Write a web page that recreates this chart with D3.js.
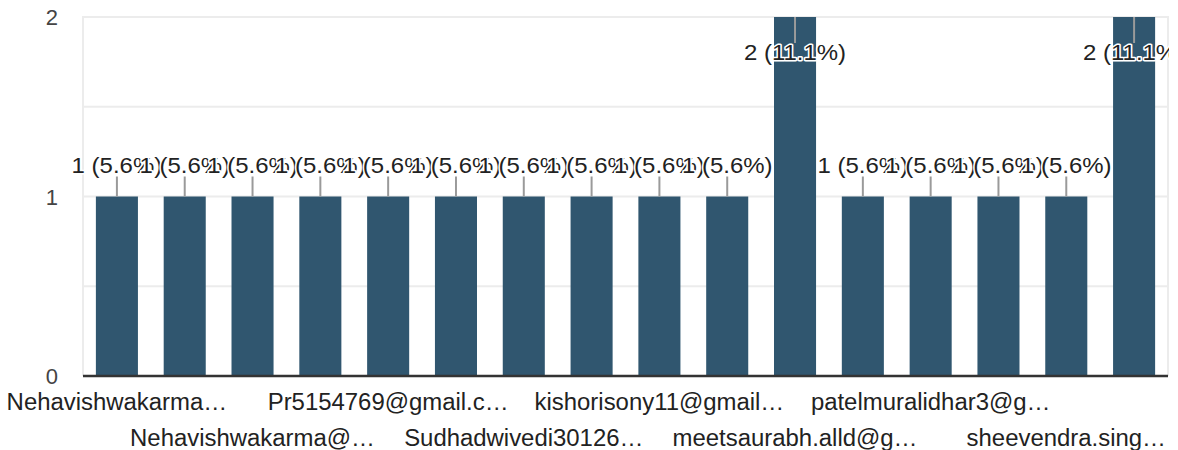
<!DOCTYPE html>
<html>
<head>
<meta charset="utf-8">
<script src="https://cdn.jsdelivr.net/npm/d3@7"></script>
<style>
  html, body { margin: 0; padding: 0; background: #fff; }
  svg { display: block; font-family: "Liberation Sans", Arial, sans-serif; }
</style>
</head>
<body>
<svg id="chart" width="1178" height="450"></svg>
<script>
// ---- data ----
const categories = [
  "Nehavishwakarma…", "", "Nehavishwakarma@…", "", "Pr5154769@gmail.c…", "",
  "Sudhadwivedi30126…", "", "kishorisony11@gmail…", "", "meetsaurabh.alld@g…", "",
  "patelmuralidhar3@g…", "", "sheevendra.sing…", ""
];
const counts = [1, 1, 1, 1, 1, 1, 1, 1, 1, 1, 2, 1, 1, 1, 1, 2];
const percents = ["5.6%", "5.6%", "5.6%", "5.6%", "5.6%", "5.6%", "5.6%", "5.6%", "5.6%", "5.6%",
                  "11.1%", "5.6%", "5.6%", "5.6%", "5.6%", "11.1%"];
const yTickValues = [0, 1, 2];
const yGridValues = [0.5, 1, 1.5, 2];

(function () {
// ---- layout ----
const pLeft = 83, pRight = 1168, pTop = 17, pBottom = 376;
const svg = d3.select("#chart");

const x = d3.scaleBand()
  .domain(d3.range(categories.length))
  .range([pLeft, pRight])
  .paddingInner(0.38)
  .paddingOuter(0.19);

const y = d3.scaleLinear().domain([0, 2]).range([pBottom, pTop]);

// gridlines
svg.append("g").selectAll("line").data(yGridValues).join("line")
  .attr("x1", pLeft).attr("x2", pRight)
  .attr("y1", d => y(d)).attr("y2", d => y(d))
  .attr("stroke", "#ececec").attr("stroke-width", 2);
svg.append("g").selectAll("line").data([pLeft, pRight]).join("line")
  .attr("x1", d => d).attr("x2", d => d)
  .attr("y1", y(2) - 1).attr("y2", y(0))
  .attr("stroke", "#ececec").attr("stroke-width", 2);

// y axis labels
const yAxis = d3.axisLeft(y).tickValues(yTickValues).tickFormat(d3.format("d")).tickSize(0).tickPadding(0);
const yg = svg.append("g").attr("transform", "translate(58,0)").call(yAxis);
yg.select(".domain").remove();
yg.selectAll("text")
  .attr("font-size", 22)
  .attr("font-family", '"Liberation Sans", Arial, sans-serif')
  .attr("fill", "#444")
  .attr("dy", "0.36em");

// bars
svg.append("g").selectAll("rect").data(counts).join("rect")
  .attr("x", (d, i) => x(i))
  .attr("width", x.bandwidth())
  .attr("y", d => y(d))
  .attr("height", d => y(0) - y(d))
  .attr("fill", "#30566f");

// baseline
svg.append("line")
  .attr("x1", pLeft).attr("x2", pRight)
  .attr("y1", y(0)).attr("y2", y(0))
  .attr("stroke", "#333").attr("stroke-width", 2.5);

// x axis labels (alternating rows)
const xAxis = d3.axisBottom(x).tickSize(0).tickFormat(i => categories[i]);
const xg = svg.append("g").attr("transform", `translate(0,${y(0)})`).call(xAxis);
xg.select(".domain").remove();
xg.selectAll(".tick text")
  .attr("font-size", 23)
  .attr("font-family", '"Liberation Sans", Arial, sans-serif')
  .attr("fill", "#222")
  .attr("x", 0)
  .attr("y", 0)
  .attr("dy", 0)
  .attr("transform", i => `translate(0,${(i % 4 === 0) ? 34 : 70}) scale(1.04,1)`);

// data labels
svg.append("defs").append("clipPath").attr("id", "clipR")
  .append("rect").attr("x", 0).attr("y", 0).attr("width", 1169).attr("height", 450);

const lg = svg.append("g").attr("clip-path", "url(#clipR)");
counts.forEach((d, i) => {
  const cx = x(i) + x.bandwidth() / 2;
  const yt = y(d);
  const inside = yt - 45 < 0;
  const l1 = inside ? yt : yt - 20;
  const l2 = inside ? yt + 26 : yt;
  const base = inside ? yt + 42.5 : yt - 24;
  lg.append("line")
    .attr("x1", cx).attr("x2", cx).attr("y1", l1).attr("y2", l2)
    .attr("stroke", "#9a9a9a").attr("stroke-width", 2);
  lg.append("text")
    .attr("transform", `translate(${cx},${base}) scale(1.09,1)`)
    .attr("text-anchor", "middle")
    .attr("font-size", 22)
    .attr("fill", "#222")
    .attr("stroke", "#fff")
    .attr("stroke-width", 3)
    .attr("stroke-linejoin", "round")
    .attr("paint-order", "stroke")
    .text(`${d} (${percents[i]})`);
});
})();
</script>
</body>
</html>
